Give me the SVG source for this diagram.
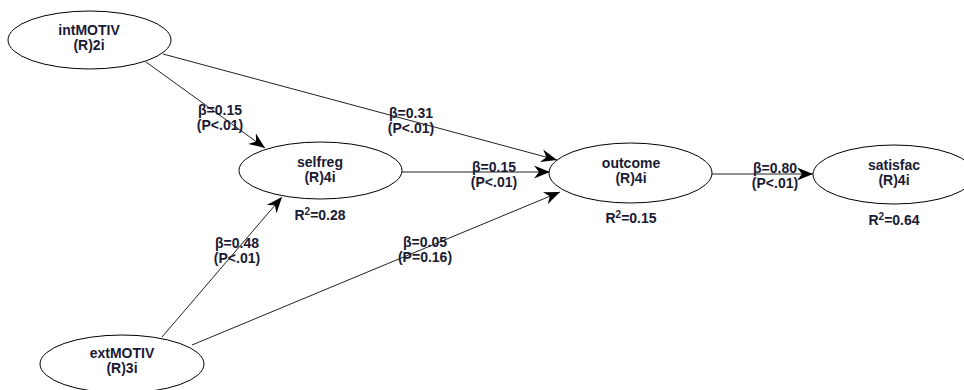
<svg xmlns="http://www.w3.org/2000/svg" width="964" height="390" viewBox="0 0 964 390">
<style>
.n{fill:#fff;stroke:#000;stroke-width:1}
.t{font-family:"Liberation Sans",Arial,sans-serif;font-size:14px;font-weight:bold;fill:#1a1a33;text-anchor:middle}
.e{stroke:#222;stroke-width:1;fill:none;marker-end:url(#ah)}
</style>
<defs>
<marker id="ah" markerWidth="18" markerHeight="14" refX="16" refY="7" orient="auto" markerUnits="userSpaceOnUse">
<path d="M0,0.5 L16,7 L0,13.5 L5,7 Z" fill="#000"/>
</marker>
</defs>
<rect width="964" height="390" fill="#fff"/>
<g id="connectors">
<line class="e" x1="146" y1="62" x2="265" y2="148"/>
<line class="e" x1="163" y1="54" x2="557" y2="160"/>
<line class="e" x1="402" y1="172" x2="550" y2="172"/>
<line class="e" x1="162" y1="337" x2="282" y2="197"/>
<line class="e" x1="192" y1="345" x2="560" y2="192"/>
<line class="e" x1="712" y1="174" x2="813" y2="174"/>
<g class="t">
<text x="220" y="115">β=0.15</text><text x="220" y="130">(P&lt;.01)</text>
<text x="411" y="118">β=0.31</text><text x="411" y="133">(P&lt;.01)</text>
<text x="494" y="172">β=0.15</text><text x="494" y="187">(P&lt;.01)</text>
<text x="775" y="173">β=0.80</text><text x="775" y="188">(P&lt;.01)</text>
<text x="237" y="248">β=0.48</text><text x="237" y="263">(P&lt;.01)</text>
<text x="425" y="247">β=0.05</text><text x="425" y="262">(P=0.16)</text>
</g>
</g>
<g id="intMOTIV"><ellipse class="n" cx="89.5" cy="40" rx="81.5" ry="29"/><text class="t" x="89" y="35">intMOTIV</text><text class="t" x="89" y="50">(R)2i</text></g>
<g id="selfreg"><ellipse class="n" cx="320.5" cy="170.5" rx="81.5" ry="28.5"/><text class="t" x="320" y="167">selfreg</text><text class="t" x="320" y="182">(R)4i</text><text class="t" x="320" y="220">R<tspan font-size="10" dy="-5">2</tspan><tspan dy="5">=0.28</tspan></text></g>
<g id="outcome"><ellipse class="n" cx="630.5" cy="173" rx="81.5" ry="30"/><text class="t" x="631" y="168">outcome</text><text class="t" x="631" y="183">(R)4i</text><text class="t" x="631" y="223">R<tspan font-size="10" dy="-5">2</tspan><tspan dy="5">=0.15</tspan></text></g>
<g id="satisfac"><ellipse class="n" cx="894" cy="174.5" rx="81" ry="29.5"/><text class="t" x="894" y="170">satisfac</text><text class="t" x="894" y="185">(R)4i</text><text class="t" x="894" y="225">R<tspan font-size="10" dy="-5">2</tspan><tspan dy="5">=0.64</tspan></text></g>
<g id="extMOTIV"><ellipse class="n" cx="122" cy="364" rx="82" ry="29"/><text class="t" x="122" y="358">extMOTIV</text><text class="t" x="122" y="373">(R)3i</text></g>
</svg>
